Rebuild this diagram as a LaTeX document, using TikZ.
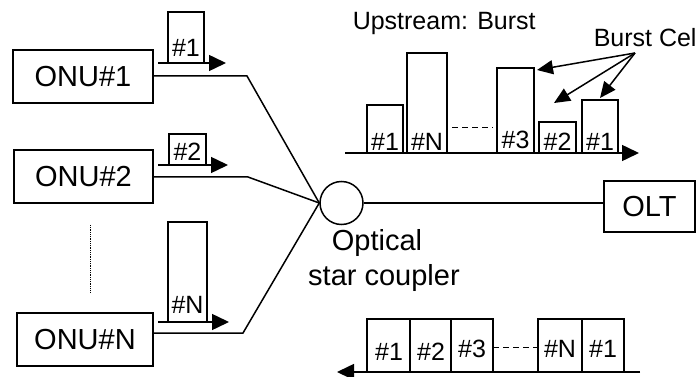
\documentclass[tikz,border=0pt]{standalone}
\usepackage{fontspec}
\setmainfont{Liberation Sans}
\usetikzlibrary{arrows.meta}
\begin{document}
\begin{tikzpicture}[x=1pt,y=-1pt,
  line width=1.5pt,
  big/.style={font=\fontsize{29}{31}\selectfont},
  mid/.style={font=\fontsize{25}{27}\selectfont},
  head/.style={font=\fontsize{25}{27}\selectfont},
  unit/.style={draw, line width=1.6pt, inner sep=0pt, big},
  lbl/.style={mid, inner sep=1.5pt, anchor=south},
  flow/.style={-{Triangle[length=17pt,width=16pt]}},
  pointer/.style={-{Triangle[length=16pt,width=14pt]}}]
\useasboundingbox (0,0) rectangle (699,377);
\clip (0,0) rectangle (699,377);

% ONUs, coupler and OLT
\node[unit, minimum width=140, minimum height=53] (onu1) at (83,76.5) {ONU\#1};
\node[unit, minimum width=139, minimum height=53] (onu2) at (83.5,176.5) {ONU\#2};
\node[unit, minimum width=136, minimum height=53] (onuN) at (85,339.5) {ONU\#N};
\node[unit, minimum width=91, minimum height=51] (olt) at (649.5,206.5) {OLT};
\node[circle, draw, minimum size=43, inner sep=0pt] (c) at (341.5,203) {};
\node[big, inner sep=0pt] (t1) at (377,243) {Optical};
\node[big, inner sep=0pt] (t2) at (384,278) {star coupler};

\coordinate (b1) at (247,76);
\coordinate (b2) at (248,177);
\coordinate (bN) at (243,333);
\draw (onu1.east |- b1) -- (b1) -- (c.west);
\draw (onu2.east |- b2) -- (b2) -- (c.west);
\draw (onuN.east |- bN) -- (bN) -- (c.west);
\draw (c.east) -- (olt.west |- c.east);

\draw[densely dotted, line width=0.8pt] (90,225) -- (90,292);

% Packets leaving each ONU
\coordinate (p1s) at (158,63);  \coordinate (p1e) at (226,63);
\draw[flow] (p1s) -- (p1e);
\draw (168,63) rectangle (204,12);
\node[lbl, inner sep=6pt] (p1) at (186,63) {\#1};

\coordinate (p2s) at (158,165); \coordinate (p2e) at (228,165);
\draw[flow] (p2s) -- (p2e);
\draw (169,165) rectangle (206,134);
\node[lbl, inner sep=3.5pt] (p2) at (187.5,165) {\#2};

\coordinate (pNs) at (158,322); \coordinate (pNe) at (229,322);
\draw[flow] (pNs) -- (pNe);
\draw (168,322) rectangle (207,222);
\node[lbl, inner sep=8pt] (pN) at (187.5,322) {\#N};

% Upstream bursts
\node[head, inner sep=0pt, anchor=west] (up) at (352,23) {Upstream: Burst};
\node[head, inner sep=0pt, anchor=west] (bc) at (593,38) {Burst Cel};
\coordinate (ax0) at (345,153);
\coordinate (ax1) at (639,153);
\draw[flow] (ax0) -- (ax1);
\draw (367,153) rectangle (403,105);
\node[lbl] (u1) at (385,153) {\#1};
\draw (407,153) rectangle (447,53);
\node[lbl] (uN) at (427,153) {\#N};
\draw[line width=1pt, dash pattern=on 6pt off 4pt] (452,128) -- (493,128);
\draw (497,153) rectangle (534,68);
\node[lbl, inner sep=4pt] (u3) at (515.5,153) {\#3};
\draw (539,153) rectangle (576,122);
\node[lbl] (u2) at (557.5,153) {\#2};
\draw (582,153) rectangle (618,100);
\node[lbl] (u1b) at (600,153) {\#1};

\coordinate (src) at (635,53);
\coordinate (tip3) at (537,70);
\coordinate (tip2) at (554,103);
\coordinate (tip1) at (600,98);
\draw[pointer] (src) -- (tip3);
\draw[pointer] (src) -- (tip2);
\draw[pointer] (src) -- (tip1);

% Downstream broadcast
\coordinate (dx0) at (640,372);
\coordinate (dx1) at (337,372);
\draw[flow] (dx0) -- (dx1);
\draw (367,372) rectangle (410,319);
\draw (410,372) rectangle (451,319);
\draw (451,372) rectangle (493,319);
\draw (538,372) rectangle (582,319);
\draw (582,372) rectangle (624,319);
\draw[line width=1pt, dash pattern=on 6pt off 4pt] (493,347) -- (538,347);
\node[mid, inner sep=0pt] (d1) at (389,352) {\#1};
\node[mid, inner sep=0pt] (d2) at (431,352) {\#2};
\node[mid, inner sep=0pt] (d3) at (472,349) {\#3};
\node[mid, inner sep=0pt] (dN) at (560,349) {\#N};
\node[mid, inner sep=0pt] (d1b) at (603,349) {\#1};
\end{tikzpicture}
\end{document}
